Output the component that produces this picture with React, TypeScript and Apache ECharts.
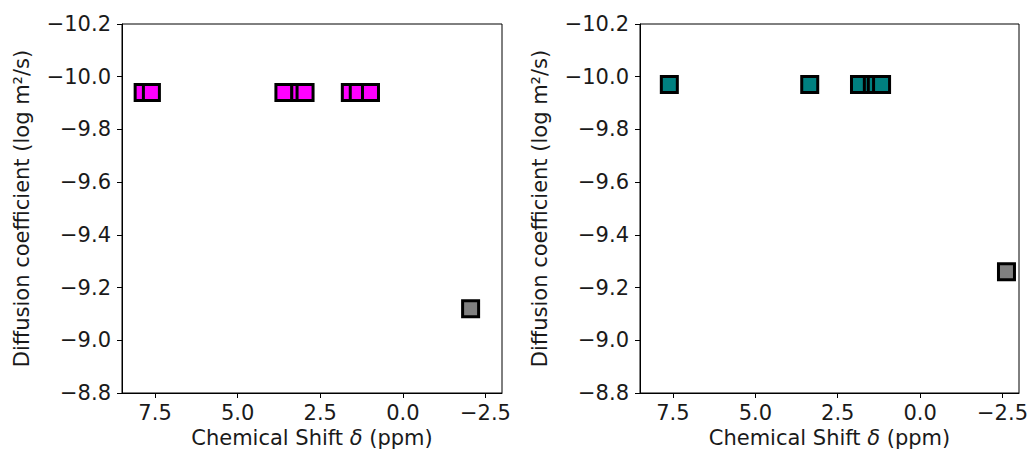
import React, { useEffect, useRef } from "react";
import * as echarts from "echarts";

// Left panel (magenta)
const leftShift = [7.86, 7.61, 3.6, 3.12, 2.96, 1.59, 1.35, 0.98];
const leftDiff = [-9.94, -9.94, -9.94, -9.94, -9.94, -9.94, -9.94, -9.94];
const leftOutShift = [-2.05];
const leftOutDiff = [-9.12];

// Right panel (teal)
const rightShift = [7.61, 3.35, 1.84, 1.45, 1.33, 1.17];
const rightDiff = [-9.97, -9.97, -9.97, -9.97, -9.97, -9.97];
const rightOutShift = [-2.62];
const rightOutDiff = [-9.26];

const xTicks = [-2.5, 0, 2.5, 5, 7.5];
const yTicks = [-10.2, -10.0, -9.8, -9.6, -9.4, -9.2, -9.0, -8.8];

const X_NAME = "Chemical Shift {i|\u03b4} (ppm)";
const Y_NAME = "Diffusion coefficient (log m\u00b2/s)";

const FONT = "DejaVu Sans";
const TXT = "#1a1a1a";
const FS = 21;

const fmt = (v: number, d: number) => {
  const s = Math.abs(v).toFixed(d);
  return (v < -1e-9 ? "\u2212" : "") + s;
};

const zip = (xs: number[], ys: number[]) => xs.map((x, i) => [x, ys[i]]);

function makeX(gridIndex: number) {
  return {
    type: "value",
    gridIndex,
    inverse: true,
    min: -3,
    max: 8.5,
    name: X_NAME,
    nameLocation: "middle",
    nameGap: 33,
    nameTextStyle: {
      fontFamily: FONT,
      fontSize: FS,
      color: TXT,
      rich: { i: { fontFamily: FONT, fontSize: FS, color: TXT, fontStyle: "italic" } },
    },
    axisLine: { show: true, onZero: false, lineStyle: { color: "#000", width: 1 } },
    axisTick: { show: true, length: 5, customValues: xTicks, lineStyle: { color: "#000", width: 1 } },
    axisLabel: {
      customValues: xTicks,
      formatter: (v: number) => fmt(v, 1),
      fontFamily: FONT,
      fontSize: FS,
      color: TXT,
      margin: 9,
    },
    splitLine: { show: false },
  };
}

function makeY(gridIndex: number) {
  return {
    type: "value",
    gridIndex,
    inverse: true,
    min: -10.2,
    max: -8.8,
    name: Y_NAME,
    nameLocation: "middle",
    nameGap: 90,
    nameTextStyle: { fontFamily: FONT, fontSize: FS, color: TXT },
    axisLine: { show: true, onZero: false, lineStyle: { color: "#000", width: 1 } },
    axisTick: { show: true, length: 5, customValues: yTicks, lineStyle: { color: "#000", width: 1 } },
    axisLabel: {
      customValues: yTicks,
      formatter: (v: number) => fmt(v, 1),
      fontFamily: FONT,
      fontSize: FS,
      color: TXT,
      margin: 11,
    },
    splitLine: { show: false },
  };
}

function scatter(xi: number, data: number[][], color: string) {
  return {
    type: "scatter",
    xAxisIndex: xi,
    yAxisIndex: xi,
    data,
    symbol: "rect",
    symbolSize: 16,
    itemStyle: { color, borderColor: "#000", borderWidth: 3, opacity: 1 },
    emphasis: { disabled: true },
    silent: true,
  };
}

export default function App() {
  const ref = useRef<HTMLDivElement>(null);
  useEffect(() => {
    if (!ref.current) return;
    const chart = echarts.init(ref.current, undefined, { renderer: "svg" });
    chart.setOption({
      animation: false,
      backgroundColor: "#fff",
      textStyle: { fontFamily: FONT },
      grid: [
        { left: 122, right: 527, top: 24, bottom: 57, show: true, borderColor: "#000", borderWidth: 1, backgroundColor: "transparent", containLabel: false, outerBoundsMode: "none" },
        { left: 640, right: 10, top: 24, bottom: 57, show: true, borderColor: "#000", borderWidth: 1, backgroundColor: "transparent", containLabel: false, outerBoundsMode: "none" },
      ],
      xAxis: [makeX(0), makeX(1)],
      yAxis: [makeY(0), makeY(1)],
      series: [
        scatter(0, zip(leftShift, leftDiff), "#ff00ff"),
        scatter(0, zip(leftOutShift, leftOutDiff), "#808080"),
        scatter(1, zip(rightShift, rightDiff), "#008080"),
        scatter(1, zip(rightOutShift, rightOutDiff), "#808080"),
      ],
    });
    return () => chart.dispose();
  }, []);
  return (
    <div
      ref={ref}
      style={{ position: "fixed", left: 0, top: 0, width: 1029, height: 450 }}
    />
  );
}
